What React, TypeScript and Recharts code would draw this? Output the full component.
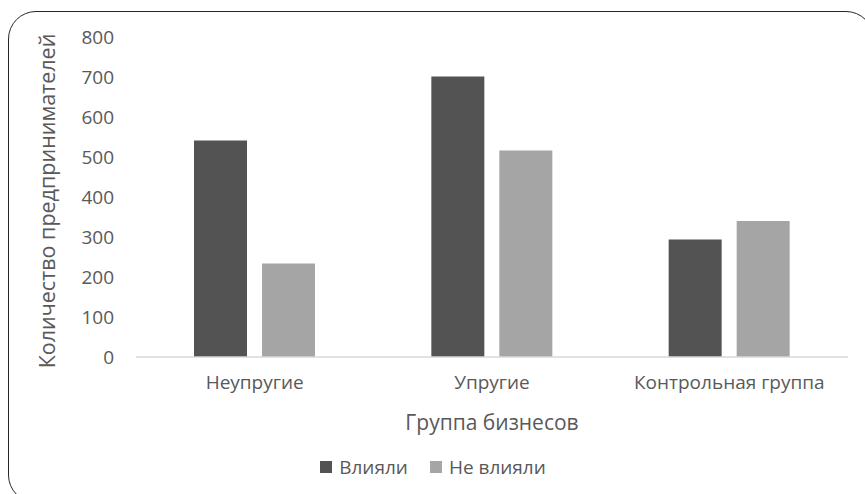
import React from "react";
import { BarChart, Bar, XAxis, YAxis, Legend } from "recharts";

// Business groups on the category axis
const categories = ["Неупругие", "Упругие", "Контрольная группа"];
// Number of entrepreneurs per group
const influenced = [541, 701, 294];
const notInfluenced = [234, 516, 340];
const yTicks = [0, 100, 200, 300, 400, 500, 600, 700, 800];

const seriesNames = { influenced: "Влияли", notInfluenced: "Не влияли" };

const data = categories.map((name, i) => ({
  name,
  influenced: influenced[i],
  notInfluenced: notInfluenced[i],
}));

const FONT = "'Open Sans', sans-serif";
const TEXT = "#595959";
const DARK = "#535353";
const LIGHT = "#a5a5a5";

const LegendContent = (props: any) => {
  const items = props.payload || [];
  return (
    <div
      style={{
        display: "flex",
        justifyContent: "center",
        alignItems: "center",
        height: 30,
        paddingLeft: 18,
        fontFamily: FONT,
        fontSize: 19,
        color: TEXT,
      }}
    >
      {items.map((it: any, idx: number) => (
        <div
          key={idx}
          style={{ display: "flex", alignItems: "center", marginLeft: idx ? 22 : 0 }}
        >
          <span
            style={{ width: 12, height: 12, background: it.color, display: "inline-block", marginRight: 7 }}
          />
          <span>{it.value}</span>
        </div>
      ))}
    </div>
  );
};

const YTitle = (props: any) => {
  const vb = props.viewBox;
  const x = vb.x + 46;
  const y = vb.y + vb.height / 2 + 4;
  return (
    <text
      x={x}
      y={y}
      transform={`rotate(-90, ${x}, ${y})`}
      textAnchor="middle"
      dominantBaseline="central"
      fontFamily={FONT}
      fontSize={21.5}
      fill={TEXT}
    >
      Количество предпринимателей
    </text>
  );
};

const XTitle = (props: any) => {
  const vb = props.viewBox;
  return (
    <text
      x={vb.x + vb.width / 2}
      y={vb.y + 65}
      textAnchor="middle"
      dominantBaseline="central"
      fontFamily={FONT}
      fontSize={21}
      fill={TEXT}
    >
      Группа бизнесов
    </text>
  );
};

export default function App() {
  return (
    <div
      style={{
        position: "absolute",
        left: 0,
        top: 0,
        width: 865,
        height: 494,
        overflow: "hidden",
        background: "#fff",
      }}
    >
      <div
        style={{
          position: "absolute",
          left: 8,
          top: 11,
          width: 866,
          height: 492,
          border: "1.5px solid #262626",
          borderRadius: 28,
          boxSizing: "border-box",
        }}
      />
      <div style={{ position: "absolute", left: 0, top: 0 }}>
        <BarChart
          width={865}
          height={494}
          data={data}
          margin={{ top: 37, right: 17, left: 0, bottom: 12 }}
          barSize={53}
          barGap={15}
        >
          <XAxis
            dataKey="name"
            height={95}
            tickLine={false}
            tickSize={0}
            tickMargin={19}
            axisLine={{ stroke: "#d9d9d9", strokeWidth: 1.5 }}
            tick={{ fill: TEXT, fontSize: 19, fontFamily: FONT }}
            label={<XTitle />}
          />
          <YAxis
            width={136}
            domain={[0, 800]}
            ticks={yTicks}
            axisLine={false}
            tickLine={false}
            tickSize={0}
            tickMargin={22}
            tick={{ fill: TEXT, fontSize: 19, fontFamily: FONT }}
            label={<YTitle />}
          />
          <Legend verticalAlign="bottom" content={<LegendContent />} />
          <Bar
            dataKey="influenced"
            name={seriesNames.influenced}
            fill={DARK}
            isAnimationActive={false}
          />
          <Bar
            dataKey="notInfluenced"
            name={seriesNames.notInfluenced}
            fill={LIGHT}
            isAnimationActive={false}
          />
        </BarChart>
      </div>
    </div>
  );
}
